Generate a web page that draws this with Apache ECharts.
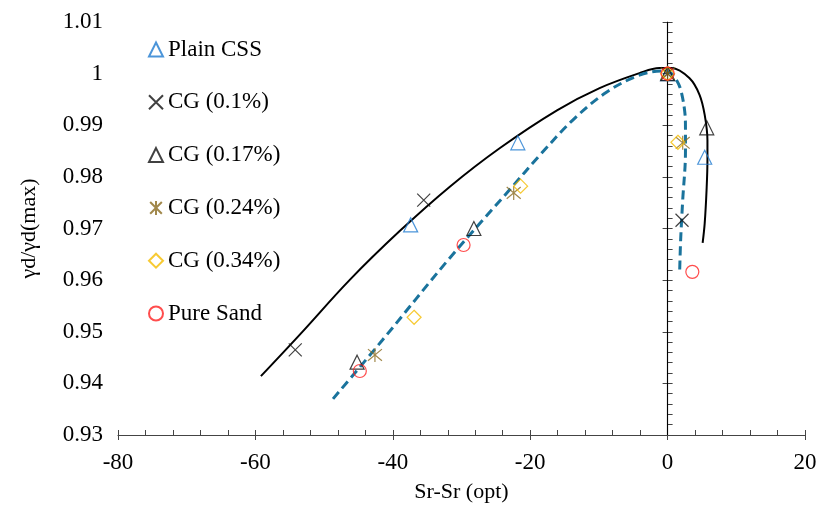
<!DOCTYPE html>
<html>
<head>
<meta charset="utf-8">
<script src="https://cdn.jsdelivr.net/npm/echarts@6/dist/echarts.min.js"></script>
<style>
  html, body { margin: 0; padding: 0; background: #fff; }
  #chart { width: 819px; height: 507px; }
</style>
</head>
<body>
<div id="chart"></div>
<script>
// measured points, Sr-Sr(opt) vs yd/yd(max)
const plainX = [-37.4, -21.8, 0, 5.4];
const plainY = [0.9707, 0.9866, 1.0, 0.9838];
const cg01X = [-54.2, -35.5, 0, 2.1];
const cg01Y = [0.9465, 0.9755, 1.0, 0.9716];
const cg017X = [-45.2, -28.2, 0, 5.7];
const cg017Y = [0.9441, 0.9700, 1.0, 0.9895];
const cg024X = [-42.6, -22.4, 0, 2.2];
const cg024Y = [0.9455, 0.9769, 1.0, 0.9866];
const cg034X = [-36.9, -21.4, 0, 1.5];
const cg034Y = [0.9528, 0.9782, 1.0, 0.9867];
const sandX = [-44.8, -29.7, 0, 3.6];
const sandY = [0.9424, 0.9668, 1.0, 0.9616];

// trend curves
const solidX = [-59.2, -53.5, -46.3, -39.0, -31.7, -24.4, -16.1, -9.9, -4.1, -1.2, 0.6, 3.2, 4.65, 5.4, 5.8, 5.8, 5.67, 5.4, 5.1];
const solidY = [0.9414, 0.9495, 0.9600, 0.9695, 0.9781, 0.9856, 0.9929, 0.9972, 1.0001, 1.0011, 1.0011, 0.9991, 0.9959, 0.9920, 0.9871, 0.9833, 0.9774, 0.9710, 0.9672];
const dashX = [-48.7, -41.5, -31.7, -23.0, -18.6, -13.8, -8.9, -4.1, -0.7, 0.3, 1.45, 2.0, 2.5, 2.6, 2.6, 2.2, 1.9, 1.75];
const dashY = [0.9370, 0.9484, 0.9643, 0.9775, 0.9842, 0.9910, 0.9964, 0.9997, 1.0005, 1.0003, 0.9984, 0.9964, 0.9926, 0.9895, 0.9848, 0.9755, 0.9678, 0.9614];

const names = ['Plain CSS', 'CG (0.1%)', 'CG (0.17%)', 'CG (0.24%)', 'CG (0.34%)', 'Pure Sand'];

const font = 'Liberation Serif';
const axisColor = '#444';

function zip(xs, ys) {
  return xs.map((x, i) => [x, ys[i]]);
}

function marker(name, xs, ys, symbol, size, color) {
  return {
    name: name,
    type: 'scatter',
    symbol: symbol,
    symbolSize: size,
    itemStyle: { color: 'transparent', borderColor: color, borderWidth: 1.2 },
    data: zip(xs, ys),
    z: 5
  };
}

const cross = 'path://M0,0L10,10M10,0L0,10';
const star = 'path://M0,0L10,10M10,0L0,10M5,-1L5,11';

const chart = echarts.init(document.getElementById('chart'));

const xBase = { type: 'value', min: -80, max: 20, interval: 20, gridIndex: 0, position: 'bottom', splitLine: { show: false } };
const yBase = { type: 'value', min: 0.93, max: 1.01, interval: 0.01, gridIndex: 0, position: 'left', splitLine: { show: false } };

let option = {
  animation: false,
  backgroundColor: '#fff',
  textStyle: { fontFamily: font },
  grid: { left: 118, right: 14, top: 22, bottom: 72, outerBoundsMode: 'none', containLabel: false },
  legend: {
    data: names,
    orient: 'vertical',
    left: 143,
    top: 33,
    itemWidth: 14,
    itemHeight: 14,
    itemGap: 29.8,
    textStyle: { fontFamily: font, fontSize: 23, color: '#000' }
  },
  xAxis: [
    {
      ...xBase,
      name: 'Sr-Sr (opt)',
      nameLocation: 'middle',
      nameGap: 46,
      nameTextStyle: { fontFamily: font, fontSize: 22, color: '#000' },
      axisLine: { lineStyle: { color: axisColor, width: 1.2 } },
      axisTick: { show: true, length: 5, lineStyle: { color: axisColor } },
      axisLabel: { fontFamily: font, fontSize: 23, color: '#000', margin: 16 }
    },
    {
      ...xBase,
      axisLine: { show: false },
      axisLabel: { show: false },
      axisTick: { show: true, inside: true, length: 5, lineStyle: { color: axisColor } },
      minorTick: { show: true, splitNumber: 5, length: 5, lineStyle: { color: axisColor } }
    }
  ],
  yAxis: [
    {
      ...yBase,
      name: 'γd/γd(max)',
      nameLocation: 'middle',
      nameGap: 78,
      nameTextStyle: { fontFamily: font, fontSize: 22, color: '#000' },
      axisLine: { lineStyle: { color: axisColor, width: 1.2 } },
      axisTick: { show: true, length: 5, lineStyle: { color: axisColor } },
      axisLabel: {
        fontFamily: font, fontSize: 23, color: '#000', margin: 15,
        formatter: v => String(parseFloat(v.toFixed(2)))
      }
    },
    {
      ...yBase,
      axisLine: { show: false },
      axisLabel: { show: false },
      axisTick: { show: true, inside: true, length: 5, lineStyle: { color: axisColor } },
      minorTick: { show: true, splitNumber: 5, length: 5, lineStyle: { color: axisColor } }
    }
  ],
  series: [
    {
      name: 'trend1',
      type: 'line',
      data: zip(solidX, solidY),
      smooth: 0.35,
      showSymbol: false,
      lineStyle: { color: '#000', width: 2 },
      z: 3,
      markLine: {
        silent: true,
        symbol: 'none',
        label: { show: false },
        lineStyle: { color: '#000', width: 1, type: 'solid' },
        data: [{ xAxis: 0 }]
      }
    },
    {
      name: 'trend2',
      type: 'line',
      data: zip(dashX, dashY),
      smooth: 0.35,
      showSymbol: false,
      lineStyle: { color: '#1a739c', width: 3, type: [9, 5] },
      z: 3
    },
    marker(names[0], plainX, plainY, 'triangle', 14, '#1f7bd0'),
    marker(names[1], cg01X, cg01Y, cross, 13, '#111'),
    marker(names[2], cg017X, cg017Y, 'triangle', 14, '#111'),
    marker(names[3], cg024X, cg024Y, star, 14, '#8a6a1e'),
    marker(names[4], cg034X, cg034Y, 'diamond', 14, '#f5bd00'),
    marker(names[5], sandX, sandY, 'circle', 13, '#ff2020')
  ]
};

chart.setOption(option);
window.addEventListener('resize', () => chart.resize());
</script>
</body>
</html>
